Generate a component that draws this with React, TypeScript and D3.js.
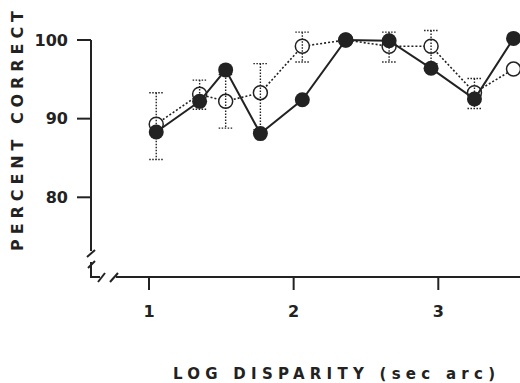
import * as d3 from "d3";

const logDisparity = [1.05, 1.35, 1.53, 1.77, 2.06, 2.36, 2.66, 2.95, 3.25, 3.52];
const filledPct = [88.3, 92.2, 96.2, 88.1, 92.4, 100, 99.9, 96.4, 92.5, 100.2];
const openPct = [89.3, 93.1, 92.2, 93.3, 99.2, 100, 99.2, 99.2, 93.3, 96.3];
const openErrHi = [93.3, 94.9, 95.6, 97.0, 101.0, null, 101.0, 101.2, 95.1, null];
const openErrLo = [84.8, 91.2, 88.8, 88.6, 97.2, null, 97.2, 97.0, 91.3, null];
const yTicks = [80, 90, 100];
const xTicks = [1, 2, 3];

const W = 520;
const H = 383;
const ink = "#222";
const font = "DejaVu Sans, sans-serif";

export default function App() {
  const x = d3.scaleLinear().domain([1, 3]).range([149, 438.3]);
  const y = d3.scaleLinear().domain([80, 100]).range([197.3, 40]);
  const axisX = 91;
  const axisY = 277;

  const line = d3
    .line<number>()
    .x((_, i) => x(logDisparity[i]))
    .y((d) => y(d));

  const r = 7.5;

  return (
    <svg
      width={W}
      height={H}
      style={{ position: "absolute", left: 0, top: 0, background: "#fff" }}
    >
      {/* y axis with break */}
      <g stroke={ink} strokeWidth={2} fill="none">
        <line x1={axisX} y1={y(100)} x2={axisX} y2={251} />
        <line x1={87} y1={257} x2={95} y2={250} />
        <line x1={88} y1={268} x2={95} y2={261} />
        <polyline points={`${axisX},262 ${axisX},${axisY} 100,${axisY}`} />
        <line x1={98} y1={282} x2={105} y2={273} />
        <line x1={110} y1={282} x2={118} y2={273} />
        <line x1={116} y1={axisY} x2={W} y2={axisY} />
        {yTicks.map((t) => (
          <line key={t} x1={77} y1={y(t)} x2={axisX} y2={y(t)} />
        ))}
        {xTicks.map((t) => (
          <line key={t} x1={x(t)} y1={axisY} x2={x(t)} y2={axisY + 13} />
        ))}
      </g>

      {yTicks.map((t) => (
        <text
          key={t}
          x={68}
          y={y(t)}
          dy="0.36em"
          textAnchor="end"
          fontFamily={font}
          fontWeight="bold"
          fontSize={16}
          fill={ink}
        >
          {t}
        </text>
      ))}
      {xTicks.map((t) => (
        <text
          key={t}
          x={x(t)}
          y={317}
          textAnchor="middle"
          fontFamily={font}
          fontWeight="bold"
          fontSize={16}
          fill={ink}
        >
          {t}
        </text>
      ))}

      <text
        transform="translate(23,131) rotate(-90)"
        textAnchor="middle"
        fontFamily={font}
        fontWeight="bold"
        fontSize={16}
        fill={ink}
        textLength={240}
        lengthAdjust="spacing"
      >
        PERCENT CORRECT
      </text>
      <text
        x={173}
        y={379}
        fontFamily={font}
        fontWeight="bold"
        fontSize={15}
        fill={ink}
        textLength={322}
        lengthAdjust="spacing"
      >
        LOG DISPARITY (sec arc)
      </text>

      {/* open series */}
      <path
        d={line(openPct) ?? ""}
        fill="none"
        stroke={ink}
        strokeWidth={1.6}
        strokeDasharray="2,2"
      />
      {openPct.map((v, i) => (
        <circle
          key={"o" + i}
          cx={x(logDisparity[i])}
          cy={y(v)}
          r={r - 0.5}
          fill="#fff"
          stroke={ink}
          strokeWidth={1.5}
        />
      ))}
      <g stroke={ink} strokeWidth={1.4} strokeDasharray="1.5,1.5" fill="none">
        {openErrHi.map((hi, i) => {
          const lo = openErrLo[i];
          if (hi == null || lo == null) return null;
          const cx = x(logDisparity[i]);
          return (
            <g key={"e" + i}>
              <line x1={cx} y1={y(hi)} x2={cx} y2={y(lo)} />
              <line x1={cx - 7} y1={y(hi)} x2={cx + 7} y2={y(hi)} />
              <line x1={cx - 7} y1={y(lo)} x2={cx + 7} y2={y(lo)} />
            </g>
          );
        })}
      </g>

      {/* filled series */}
      <path d={line(filledPct) ?? ""} fill="none" stroke={ink} strokeWidth={2} />
      {filledPct.map((v, i) => (
        <circle
          key={"f" + i}
          cx={x(logDisparity[i])}
          cy={y(v)}
          r={r}
          fill={ink}
        />
      ))}
    </svg>
  );
}
